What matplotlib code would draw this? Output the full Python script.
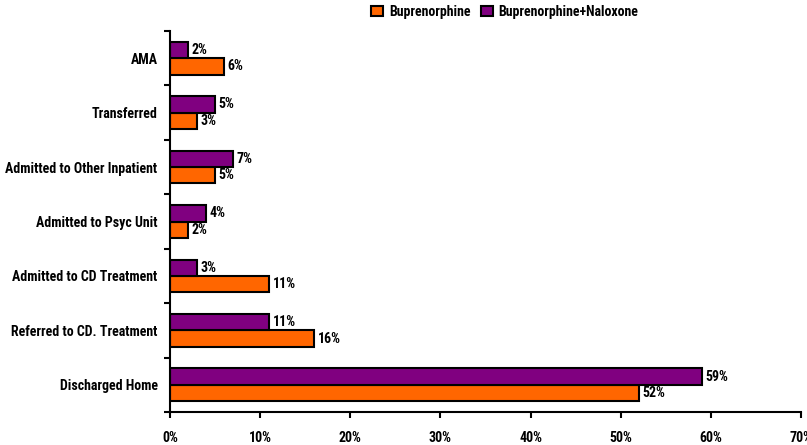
import matplotlib
matplotlib.use("Agg")
import matplotlib.pyplot as plt
import numpy as np

plt.rcParams['font.family'] = ['Roboto Condensed', 'DejaVu Sans']
FS = 10

categories = ["Discharged Home", "Referred to CD. Treatment", "Admitted to CD Treatment",
              "Admitted to Psyc Unit", "Admitted to Other Inpatient", "Transferred", "AMA"]
bup = [52, 16, 11, 2, 5, 3, 6]
bup_nal = [59, 11, 3, 4, 7, 5, 2]
series_names = ["Buprenorphine", "Buprenorphine+Naloxone"]
xticks = [0, 10, 20, 30, 40, 50, 60, 70]

fig = plt.figure(figsize=(8.07, 4.45), dpi=100)
ax = fig.add_axes([170/807, 1-412/445, (801-170)/807, (412-31)/445])

y = np.arange(len(categories))
h = 0.3
b1 = ax.barh(y - h/2, bup, height=h, color="#FF6600", edgecolor="black", linewidth=1.5, label=series_names[0])
b2 = ax.barh(y + h/2, bup_nal, height=h, color="#800080", edgecolor="black", linewidth=1.5, label=series_names[1])

for bars, vals in ((b1, bup), (b2, bup_nal)):
    for rect, v in zip(bars, vals):
        ax.text(rect.get_width() + 0.4, rect.get_y() + rect.get_height()/2, f"{v}%",
                va="center", ha="left", fontsize=FS, fontweight="bold")

ax.set_xlim(0, 70)
ax.set_ylim(-0.5, len(categories) - 0.5)
ax.set_xticks(xticks)
ax.set_xticklabels([f"{t}%" for t in xticks], fontsize=FS, fontweight="bold")
ax.set_yticks(np.arange(len(categories) + 1) - 0.5)
ax.set_yticklabels([])
ax.set_yticks(y, minor=True)
ax.set_yticklabels(categories, minor=True, fontsize=FS, fontweight="bold")
ax.tick_params(axis="y", which="minor", length=0, pad=9)
ax.tick_params(axis="y", which="major", length=4, width=1.5, direction="out")
ax.tick_params(axis="x", length=4, width=1.5, direction="out", pad=10)

for s in ["top", "right"]:
    ax.spines[s].set_visible(False)
for s in ["left", "bottom"]:
    ax.spines[s].set_linewidth(1.5)

fig.legend([b1, b2], series_names, loc="center", bbox_to_anchor=(505/807, 1-12/445), ncol=2,
           frameon=False, prop={"weight": "bold", "size": FS},
           handlelength=0.85, handleheight=0.75, handletextpad=0.4, columnspacing=0.8)

fig.savefig("out.png", dpi=100)
